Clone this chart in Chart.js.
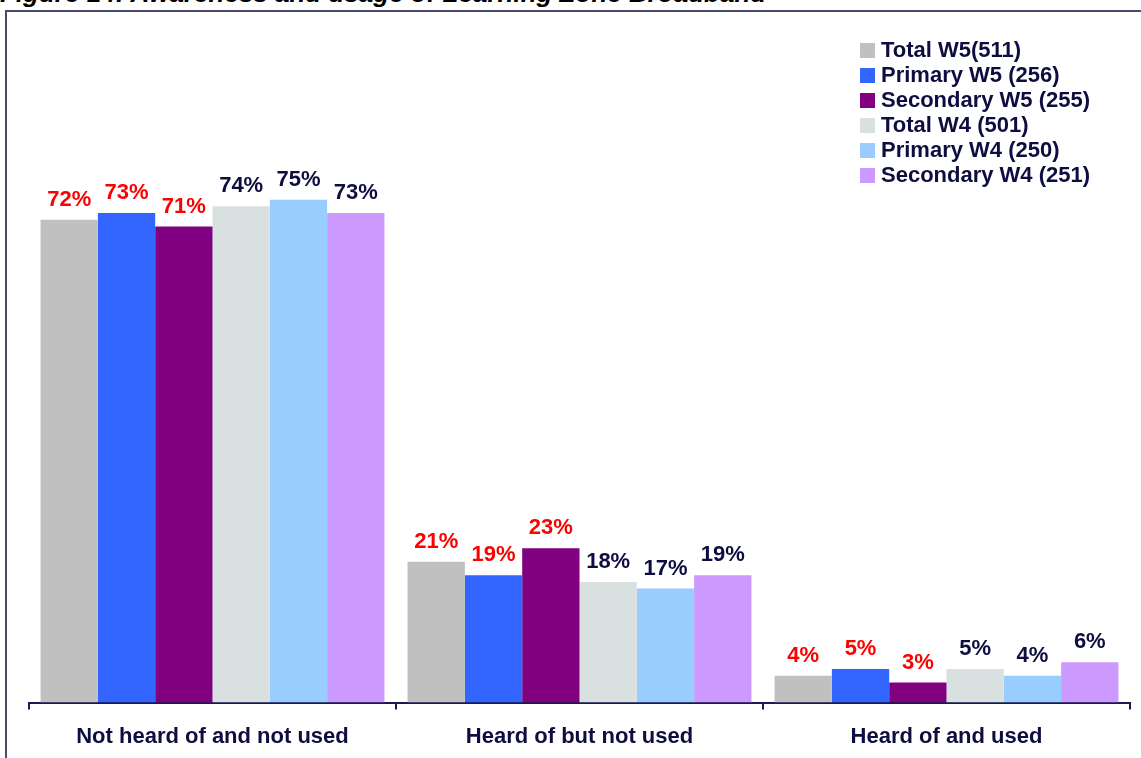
<!DOCTYPE html>
<html>
<head>
<meta charset="utf-8">
<script src="https://cdn.jsdelivr.net/npm/chart.js@4.4.0/dist/chart.umd.min.js"></script>
<style>
  html, body { margin: 0; padding: 0; background: #fff; overflow: hidden; }
  #page { position: relative; width: 1141px; height: 758px; overflow: hidden; }
  #title {
    position: absolute; left: 0; top: -22px; white-space: nowrap;
    font: italic bold 26px "Liberation Sans", Arial, sans-serif; color: #000;
  }
  #frame {
    position: absolute; left: 5px; top: 10px; width: 1200px; height: 800px;
    border-left: 2px solid #4a4a70; border-top: 2px solid #4a4a70;
  }
  #chart-wrap { position: absolute; left: 0; top: 0; width: 1141px; height: 764px; }
  #legend {
    position: absolute; left: 860px; top: 37px;
    font: bold 22px "Liberation Sans", Arial, sans-serif; color: #0d0d40;
  }
  #legend div { height: 25px; line-height: 25px; white-space: nowrap; }
  #legend span.box {
    display: inline-block; width: 15px; height: 15px; margin-right: 6px; vertical-align: -1px;
  }
</style>
</head>
<body>
<div id="page">
  <div id="title">Figure 14: Awareness and usage of Learning Zone Broadband</div>
  <div id="frame"></div>
  <div id="chart-wrap"><canvas id="chart" width="1141" height="764"></canvas></div>
  <div id="legend"></div>
</div>
<script>
// Categorías y series
const categories = ['Not heard of and not used', 'Heard of but not used', 'Heard of and used'];
const seriesNames = ['Total W5(511)', 'Primary W5 (256)', 'Secondary W5 (255)', 'Total W4 (501)', 'Primary W4 (250)', 'Secondary W4 (251)'];
const totalW5 = [72, 21, 4];
const primaryW5 = [73, 19, 5];
const secondaryW5 = [71, 23, 3];
const totalW4 = [74, 18, 5];
const primaryW4 = [75, 17, 4];
const secondaryW4 = [73, 19, 6];

const seriesValues = [totalW5, primaryW5, secondaryW5, totalW4, primaryW4, secondaryW4];
const barColors = ['#c0c0c0', '#3366ff', '#800080', '#d9e0e0', '#99ccff', '#cc99ff'];
// W5 en rojo, W4 en azul oscuro
const labelColors = ['#ff0000', '#ff0000', '#ff0000', '#0d0d40', '#0d0d40', '#0d0d40'];

const FONT = '"Liberation Sans", Arial, sans-serif';

// Leyenda HTML
const legendEl = document.getElementById('legend');
seriesNames.forEach((name, i) => {
    const row = document.createElement('div');
    row.innerHTML = `<span class="box" style="background:${barColors[i]}"></span>${name}`;
    legendEl.appendChild(row);
});

// Etiquetas de valor sobre cada barra
const valueLabels = {
    id: 'valueLabels',
    afterDatasetsDraw(chart) {
        const ctx = chart.ctx;
        ctx.save();
        ctx.font = `bold 22px ${FONT}`;
        ctx.textAlign = 'center';
        ctx.textBaseline = 'bottom';
        chart.data.datasets.forEach((ds, i) => {
            const meta = chart.getDatasetMeta(i);
            ctx.fillStyle = labelColors[i];
            meta.data.forEach((bar, j) => {
                ctx.fillText(ds.data[j] + '%', bar.x, bar.y - 9);
            });
        });
        ctx.restore();
    }
};

const chart = new Chart(document.getElementById('chart'), {
    type: 'bar',
    data: {
        labels: categories,
        datasets: seriesValues.map((vals, i) => ({
            label: seriesNames[i],
            data: vals,
            backgroundColor: barColors[i],
            borderWidth: 0,
            categoryPercentage: 0.937,
            barPercentage: 1.0
        }))
    },
    options: {
        responsive: false,
        animation: false,
        layout: { padding: { left: 29, right: 11, top: 32, bottom: 0 } },
        plugins: { legend: { display: false }, tooltip: { enabled: false } },
        scales: {
            y: { display: false, min: 0, max: 100 },
            x: {
                grid: { offset: true, drawOnChartArea: false, drawTicks: true, tickLength: 7, color: '#1a1a50', lineWidth: 2 },
                border: { display: true, color: '#1a1a50', width: 2 },
                ticks: { color: '#0d0d40', font: { family: FONT, size: 22, weight: 'bold' }, padding: 14, maxRotation: 0 }
            }
        }
    },
    plugins: [valueLabels]
});
</script>
</body>
</html>
